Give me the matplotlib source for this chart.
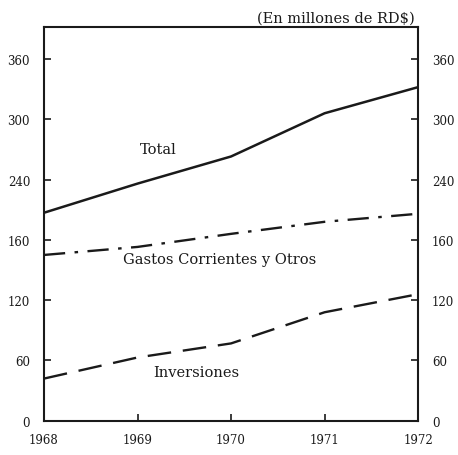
import matplotlib.pyplot as plt

# Gastos del gobierno, 1968-1972 (millones de RD$)
years = [1968, 1969, 1970, 1971, 1972]
total = [207, 236, 263, 306, 332]
gastos_corrientes = [165, 173, 186, 198, 206]
inversiones = [42, 63, 77, 108, 126]

y_ticks = [0, 60, 120, 180, 240, 300, 360]
y_tick_labels = ["0", "60", "120", "160", "240", "300", "360"]
x_tick_labels = ["1968", "1969", "1970", "1971", "1972"]

plt.rcParams['font.family'] = ['DejaVu Serif']

fig = plt.figure(figsize=(4.58, 4.56), dpi=100)
ax = fig.add_axes([0.096, 0.075, 0.817, 0.864])

ax.plot(years, total, color='#1a1a1a', lw=1.8, solid_capstyle='butt')
ax.plot(years, gastos_corrientes, color='#1a1a1a', lw=1.7,
        dashes=(9, 4, 1.5, 4))
ax.plot(years, inversiones, color='#1a1a1a', lw=1.7, dashes=(10, 5))

ax.set_xlim(1968, 1972)
ax.set_ylim(0, 392)

for s in ax.spines.values():
    s.set_linewidth(1.5)
    s.set_color('#1a1a1a')

ax.set_yticks(y_ticks)
ax.set_yticklabels(y_tick_labels)
ax.set_xticks(years)
ax.set_xticklabels(x_tick_labels)
ax.tick_params(axis='y', direction='in', length=5, width=1.2, labelsize=8.5,
               pad=10, right=True, labelright=True, colors='#1a1a1a')
ax.tick_params(axis='x', direction='in', length=5, width=1.2, labelsize=8.5,
               pad=9, colors='#1a1a1a')

# etiquetas de las series
ax.text(1969.03, 266, "Total", fontsize=10.5, color='#1a1a1a')
ax.text(1968.84, 157, "Gastos Corrientes y Otros", fontsize=10.5,
        color='#1a1a1a')
ax.text(1969.17, 45, "Inversiones", fontsize=10.5, color='#1a1a1a')

fig.text(0.906, 0.96, "(En millones de RD$)", ha='right', va='center',
         fontsize=10.5, color='#1a1a1a')

fig.savefig("out.png", dpi=100)
